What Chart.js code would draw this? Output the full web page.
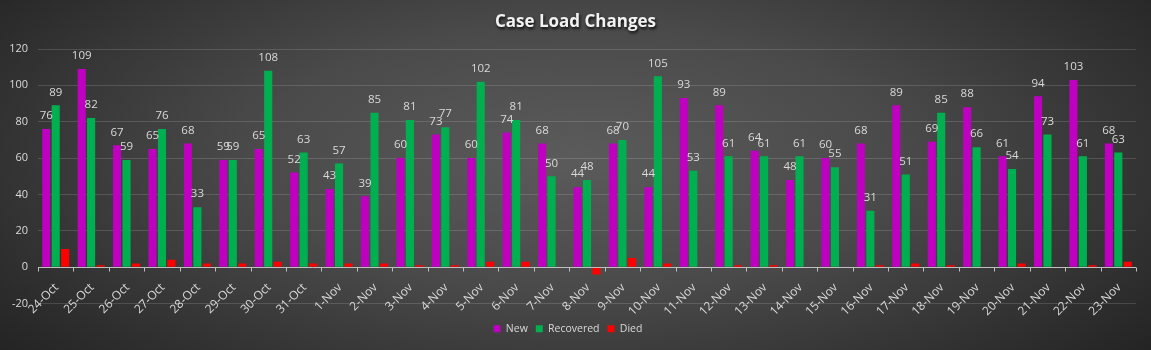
<!DOCTYPE html>
<html>
<head>
<meta charset="utf-8">
<script src="https://cdn.jsdelivr.net/npm/chart.js@4.4.0/dist/chart.umd.min.js"></script>
<style>
  html, body { margin: 0; padding: 0; }
  body {
    width: 1151px; height: 350px; overflow: hidden;
    background: radial-gradient(ellipse 70% 95% at 50% 45%, #5b5b5b 0%, #4a4a4a 40%, #303030 75%, #1e1e1e 100%);
  }
</style>
</head>
<body>
<canvas id="chart" width="1151" height="350"></canvas>
<script>
// dữ liệu
const dates = ['24-Oct','25-Oct','26-Oct','27-Oct','28-Oct','29-Oct','30-Oct','31-Oct',
  '1-Nov','2-Nov','3-Nov','4-Nov','5-Nov','6-Nov','7-Nov','8-Nov','9-Nov','10-Nov','11-Nov',
  '12-Nov','13-Nov','14-Nov','15-Nov','16-Nov','17-Nov','18-Nov','19-Nov','20-Nov','21-Nov',
  '22-Nov','23-Nov'];
const newCases  = [76,109,67,65,68,59,65,52,43,39,60,73,60,74,68,44,68,44,93,89,64,48,60,68,89,69,88,61,94,103,68];
const recovered = [89,82,59,76,33,59,108,63,57,85,81,77,102,81,50,48,70,105,53,61,61,61,55,31,51,85,66,54,73,61,63];
const died      = [10,1,2,4,2,2,3,2,2,2,1,1,3,3,0,-4,5,2,0,1,1,0,0,1,2,1,0,2,0,1,3];
const yTicks = [-20, 0, 20, 40, 60, 80, 100, 120];

const FONT = '"Open Sans", "Noto Sans", sans-serif';
const TEXT = '#d9d9d9';

// tiêu đề có bóng đổ
const titlePlugin = {
  id: 'titleShadow',
  afterDraw(chart) {
    const ctx = chart.ctx;
    ctx.save();
    ctx.font = 'bold 17px ' + FONT;
    ctx.fillStyle = '#f2f2f2';
    ctx.textAlign = 'center';
    ctx.textBaseline = 'middle';
    ctx.shadowColor = 'rgba(0,0,0,0.85)';
    ctx.shadowOffsetX = 1;
    ctx.shadowOffsetY = 2;
    ctx.shadowBlur = 3;
    ctx.fillText('Case Load Changes', chart.width / 2, 22);
    ctx.restore();
  }
};

// trục 0, vạch chia, nhãn ngày và nhãn giá trị
const axisPlugin = {
  id: 'zeroAxis',
  afterDatasetsDraw(chart) {
    const ctx = chart.ctx;
    const x = chart.scales.x, y = chart.scales.y;
    const y0 = Math.round(y.getPixelForValue(0)) + 0.5;
    const area = chart.chartArea;
    ctx.save();
    ctx.strokeStyle = '#bfbfbf';
    ctx.lineWidth = 1;
    ctx.beginPath();
    ctx.moveTo(area.left, y0);
    ctx.lineTo(area.right, y0);
    const step = (area.right - area.left) / dates.length;
    for (let i = 0; i <= dates.length; i++) {
      const tx = Math.round(area.left + i * step) + 0.5;
      ctx.moveTo(tx, y0);
      ctx.lineTo(tx, y0 + 4);
    }
    ctx.stroke();

    ctx.font = '12px ' + FONT;
    ctx.fillStyle = TEXT;
    ctx.textAlign = 'right';
    ctx.textBaseline = 'middle';
    dates.forEach((d, i) => {
      const cx = x.getPixelForValue(i);
      ctx.save();
      ctx.translate(cx + 1, y0 + 18);
      ctx.rotate(-Math.PI / 4);
      ctx.fillText(d, 0, 0);
      ctx.restore();
    });

    ctx.font = '11.5px ' + FONT;
    ctx.textAlign = 'center';
    [0, 1].forEach(di => {
      const meta = chart.getDatasetMeta(di);
      meta.data.forEach((bar, i) => {
        ctx.fillText(chart.data.datasets[di].data[i], bar.x, bar.y - 13);
      });
    });
    ctx.restore();
  }
};

new Chart(document.getElementById('chart'), {
  type: 'bar',
  data: {
    labels: dates,
    datasets: [
      { label: 'New', data: newCases, backgroundColor: '#c000c0' },
      { label: 'Recovered', data: recovered, backgroundColor: '#00b050' },
      { label: 'Died', data: died, backgroundColor: '#ff0000' }
    ]
  },
  options: {
    responsive: false,
    animation: false,
    datasets: { bar: { categoryPercentage: 0.8, barPercentage: 0.86 } },
    layout: { padding: { top: 49, right: 15, bottom: 6, left: 0 } },
    plugins: {
      legend: {
        position: 'bottom',
        labels: {
          boxWidth: 7, boxHeight: 7, padding: 8,
          color: TEXT, font: { family: FONT, size: 10.5 }
        }
      },
      tooltip: { enabled: false }
    },
    scales: {
      x: {
        grid: { display: false },
        border: { display: false },
        ticks: { display: false },
        afterFit(s) { s.height = 12; }
      },
      y: {
        min: -20, max: 120,
        afterBuildTicks(s) { s.ticks = yTicks.map(v => ({ value: v })); },
        afterFit(s) { s.width = 38; },
        grid: { color: 'rgba(255,255,255,0.14)', drawTicks: false },
        border: { display: false },
        ticks: { color: TEXT, padding: 10, font: { family: FONT, size: 11 } }
      }
    }
  },
  plugins: [titlePlugin, axisPlugin]
});
</script>
</body>
</html>
